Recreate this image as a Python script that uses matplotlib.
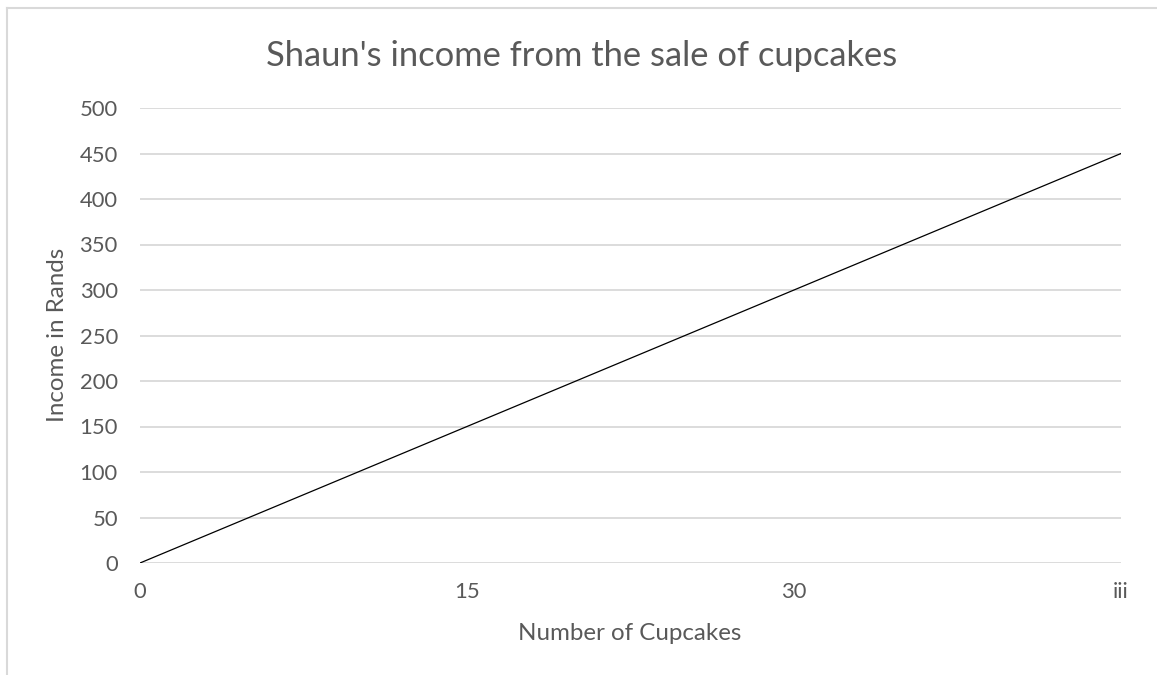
import matplotlib.pyplot as plt
from matplotlib.lines import Line2D

# data
categories = ["0", "15", "30", "iii"]
income = [0, 150, 300, 450]
y_ticks = [0, 50, 100, 150, 200, 250, 300, 350, 400, 450, 500]

plt.rcParams['font.family'] = ['Lato', 'DejaVu Sans']
grey = '#595959'

W, H = 1157, 675
fig = plt.figure(figsize=(W / 100, H / 100), dpi=100)
ax = fig.add_axes([140 / W, 1 - 563 / H, (1121 - 140) / W, (563 - 108) / H])

x = list(range(len(categories)))
ax.plot(x, income, color='black', lw=0.9)

ax.set_xlim(0, len(categories) - 1)
ax.set_ylim(0, 500)
ax.set_xticks(x)
ax.set_xticklabels(categories)
ax.set_yticks(y_ticks)
ax.grid(axis='y', color='#d9d9d9', lw=1.3)
ax.set_axisbelow(True)
for s in ax.spines.values():
    s.set_visible(False)
ax.tick_params(axis='both', length=0, labelsize=15.8, labelcolor=grey)
ax.tick_params(axis='y', pad=16)
ax.tick_params(axis='x', pad=14)

fig.text(582 / W, 1 - 56 / H, "Shaun's income from the sale of cupcakes",
         ha='center', va='center', fontsize=24.8, color=grey)
fig.text(630 / W, 1 - 633 / H, "Number of Cupcakes",
         ha='center', va='center', fontsize=17.4, color=grey)
fig.text(58 / W, 1 - 335 / H, "Income in Rands", rotation=90,
         ha='center', va='center', fontsize=17.4, color=grey)

# chart border (only top and left edges visible)
fig.add_artist(Line2D([7 / W, 1], [1 - 8 / H, 1 - 8 / H], color='#d9d9d9', lw=1.5,
                      transform=fig.transFigure))
fig.add_artist(Line2D([7 / W, 7 / W], [0, 1 - 8 / H], color='#d9d9d9', lw=1.5,
                      transform=fig.transFigure))

fig.savefig('out.png', dpi=100)
